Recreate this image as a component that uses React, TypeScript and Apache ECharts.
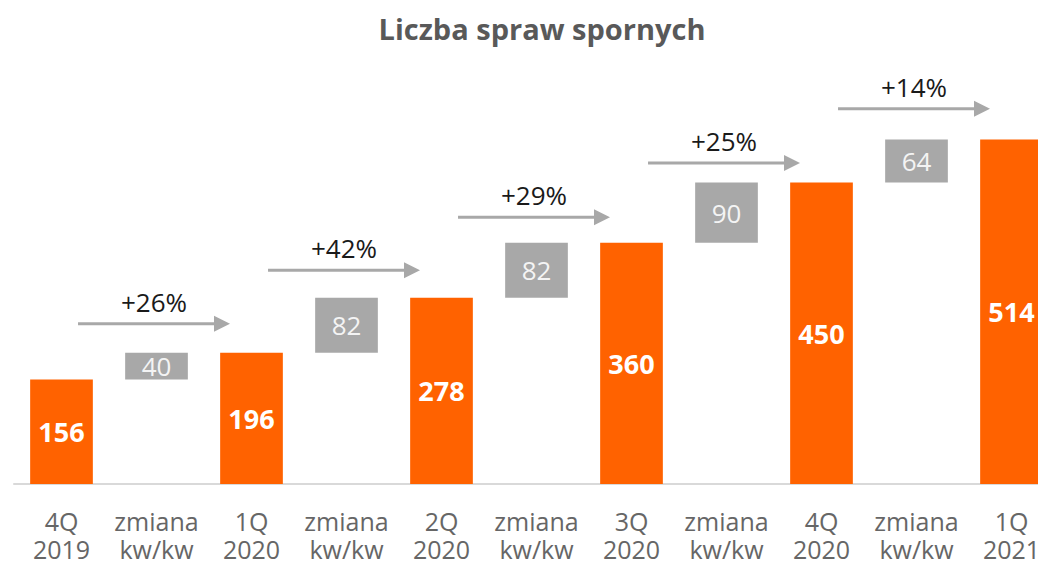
import React, { useEffect, useRef } from "react";
import * as echarts from "echarts";

const categories = [
  "4Q\n2019", "zmiana\nkw/kw", "1Q\n2020", "zmiana\nkw/kw", "2Q\n2020", "zmiana\nkw/kw",
  "3Q\n2020", "zmiana\nkw/kw", "4Q\n2020", "zmiana\nkw/kw", "1Q\n2021",
];
const totals = [156, 196, 278, 360, 450, 514];
const changes = [40, 82, 82, 90, 64];
const growthLabels = ["+26%", "+42%", "+29%", "+25%", "+14%"];
const arrowLevels = [239, 319, 398, 479, 560];

const ORANGE = "#FF6200";
const GREY = "#A8A8A8";
const FONT = "'Open Sans', 'Noto Sans', sans-serif";

export default function App() {
  const ref = useRef<HTMLDivElement>(null);
  useEffect(() => {
    if (!ref.current) return;
    const chart = echarts.init(ref.current, null, { renderer: "svg" });

    const baseData: any[] = [];
    const totalData: any[] = [];
    const changeData: any[] = [];
    categories.forEach((_, i) => {
      if (i % 2 === 0) {
        baseData.push(0);
        totalData.push(totals[i / 2]);
        changeData.push("-");
      } else {
        const k = (i - 1) / 2;
        baseData.push(totals[k]);
        totalData.push("-");
        changeData.push(changes[k]);
      }
    });
    const arrowData = growthLabels.map((g, k) => [2 * k + 1, arrowLevels[k], g]);

    chart.setOption({
      animation: false,
      title: {
        text: "Liczba spraw spornych",
        left: 537,
        top: 9,
        textAlign: "center",
        textStyle: { fontFamily: FONT, fontSize: 29, fontWeight: "bold", color: "#595959" },
      },
      grid: { left: 14, right: 1, top: 82, bottom: 81 },
      xAxis: {
        type: "category",
        data: categories,
        axisTick: { show: false },
        axisLine: { lineStyle: { color: "#d9d9d9", width: 2 } },
        axisLabel: {
          interval: 0,
          margin: 23,
          fontFamily: FONT,
          fontSize: 25,
          lineHeight: 28,
          color: "#666666",
        },
      },
      yAxis: { type: "value", min: 0, max: 600, show: false, splitLine: { show: false } },
      series: [
        {
          type: "bar",
          stack: "w",
          data: baseData,
          barWidth: "66%",
          itemStyle: { color: "transparent" },
          silent: true,
        },
        {
          type: "bar",
          stack: "w",
          data: totalData,
          itemStyle: { color: ORANGE },
          label: {
            show: true,
            position: "inside",
            fontFamily: FONT,
            fontSize: 27,
            fontWeight: "bold",
            color: "#ffffff",
          },
        },
        {
          type: "bar",
          stack: "w",
          data: changeData,
          itemStyle: { color: GREY },
          label: {
            show: true,
            position: "inside",
            fontFamily: FONT,
            fontSize: 26,
            color: "#f4f4f4",
          },
        },
        {
          type: "custom",
          data: arrowData,
          encode: { x: 0, y: 1 },
          z: 10,
          renderItem: (params: any, api: any) => {
            const p = api.coord([api.value(0), api.value(1)]);
            const w = api.size([1, 0])[0];
            const x0 = p[0] - 0.826 * w;
            const x1 = p[0] + 0.774 * w;
            const y = p[1];
            const label = growthLabels[params.dataIndex];
            return {
              type: "group",
              children: [
                {
                  type: "line",
                  shape: { x1: x0, y1: y, x2: x1 - 14, y2: y },
                  style: { stroke: GREY, lineWidth: 3 },
                },
                {
                  type: "polygon",
                  shape: { points: [[x1 - 16, y - 8], [x1, y], [x1 - 16, y + 8]] },
                  style: { fill: GREY },
                },
                {
                  type: "text",
                  x: (x0 + x1) / 2,
                  y: y - 22,
                  style: {
                    text: label,
                    fontFamily: FONT,
                    fontSize: 26,
                    fill: "#1a1a1a",
                    align: "center",
                    verticalAlign: "middle",
                  },
                },
              ],
            };
          },
        },
      ],
    });
    return () => chart.dispose();
  }, []);
  return (
    <div
      ref={ref}
      style={{ position: "fixed", left: 0, top: 0, width: 1060, height: 565, background: "#fff" }}
    />
  );
}
